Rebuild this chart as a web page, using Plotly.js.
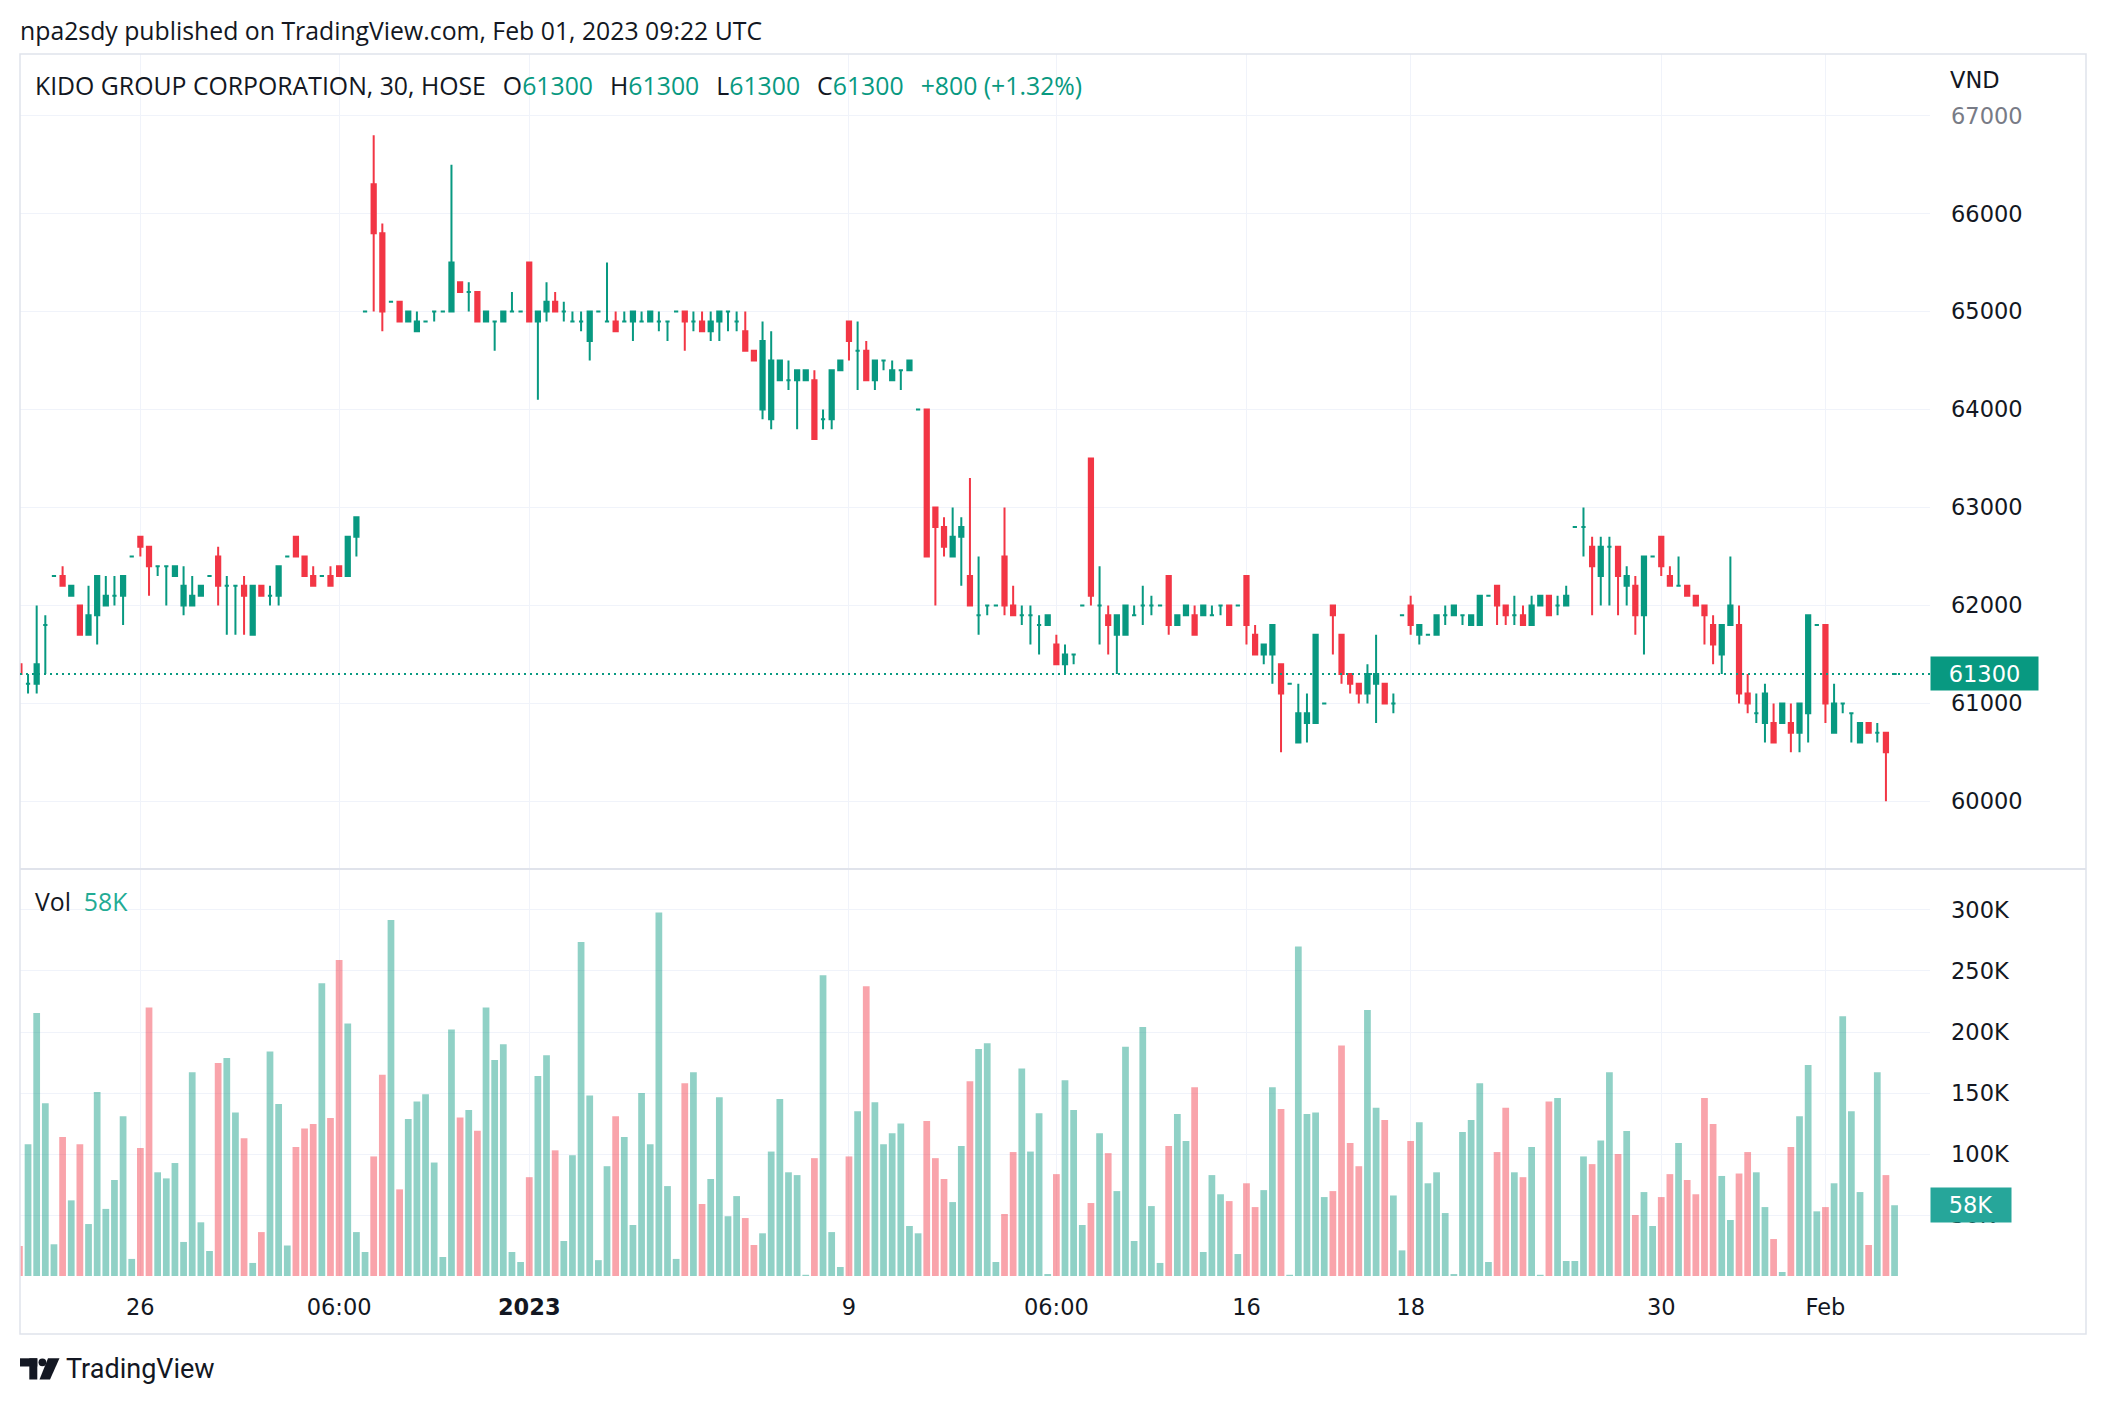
<!DOCTYPE html>
<html><head><meta charset="utf-8">
<script src="https://cdn.plot.ly/plotly-3.0.1.min.js"></script>
<style>html,body{margin:0;padding:0;background:#fff;overflow:hidden}#chart{width:2106px;height:1404px}</style>
</head><body><div id="chart"></div>
<script>
// ---- DATA (30-minute candles, KIDO GROUP CORPORATION, HOSE) ----
const openP = [61400,61200,61200,61800,62300,62300,62100,62000,61700,61900,62000,62100,62100,62500,62700,62600,62400,62400,62300,62000,
62000,62100,62300,62500,62200,62200,62200,61700,62200,62100,62100,62500,62700,62500,62300,62300,62300,62400,62300,62700,
65000,66300,65800,65100,65100,64900,64800,64900,65000,65000,65000,65300,65200,65200,64900,64900,64900,65000,65000,65500,
64900,65000,65100,65000,64900,64900,64700,65000,64900,64900,64900,64900,64900,64900,64900,64900,65000,65000,64900,64900,
64800,64900,65000,64900,64800,64600,64000,63900,64300,64300,64300,64300,64300,63900,63900,64400,64900,64600,64600,64300,
64500,64300,64400,64400,64000,64000,63000,62800,62500,62700,62300,61900,62000,62000,62500,62000,61900,61900,61800,61800,
61600,61400,61500,62000,63500,62000,61900,61700,61700,61900,62000,62000,62000,62300,61800,61900,61900,61900,61900,62000,
62000,62000,62300,61700,61500,61500,61400,61200,60600,60800,60800,61000,62000,61700,61300,61200,61100,61200,61200,61000,
61900,62000,61700,61700,61700,61900,61900,61900,61800,61800,62100,62200,62000,61900,61900,61800,62000,62100,62000,62000,
62800,62800,62600,62300,62600,62600,62200,62200,61900,62500,62700,62300,62200,62200,62100,62000,61800,61500,61800,61800,
61100,60900,60800,60800,60800,60800,60700,60900,61800,61800,60700,61000,60900,60600,60800,60700,60700,61300];
const highP = [61400,61300,62000,61900,62300,62400,62200,62000,62200,62300,62300,62300,62300,62500,62700,62600,62400,62400,62400,62400,
62300,62200,62300,62600,62300,62200,62300,62200,62200,62200,62400,62500,62700,62500,62400,62300,62400,62400,62700,62900,
65000,66800,65900,65100,65100,65000,65000,64900,65000,65000,66500,65300,65300,65200,65000,64900,65000,65200,65000,65500,
65000,65300,65200,65100,65000,65000,65000,65000,65500,65000,65000,65000,65000,65000,65000,64900,65000,65000,65000,65000,
65000,65000,65000,65000,65000,64600,64900,64800,64500,64500,64400,64400,64400,64000,64400,64500,64900,64900,64700,64500,
64500,64500,64400,64500,64000,64000,63000,62900,63000,62900,63300,62500,62000,62000,63000,62200,62000,62000,61900,61900,
61700,61600,61500,62000,63500,62400,62000,61900,62000,62000,62200,62100,62000,62300,61900,62000,62000,62000,62000,62000,
62000,62000,62300,61800,61600,61800,61400,61200,61200,61100,61700,61000,62000,61700,61300,61200,61400,61700,61200,61100,
61900,62100,61800,61700,61900,62000,62000,61900,61900,62100,62100,62200,62000,62100,62000,62100,62100,62100,62100,62200,
62800,63000,62700,62700,62700,62600,62400,62300,62500,62500,62700,62400,62500,62200,62100,62000,61900,61800,62500,62000,
61300,61100,61200,61000,61000,61000,61000,61900,61800,61800,61200,61000,60900,60800,60800,60800,60700,61300];
const lowP = [61300,61100,61100,61300,62300,62200,62100,61700,61700,61600,62000,62000,61800,62500,62500,62100,62300,62000,62300,61900,
62000,62100,62300,62000,61700,61700,61700,61700,62100,62000,62000,62500,62500,62300,62200,62300,62200,62300,62300,62500,
65000,65000,64800,65100,64900,64900,64800,64900,64900,65000,65000,65200,65000,64900,64900,64600,64900,65000,65000,64900,
64100,64900,65000,64900,64900,64800,64500,65000,64900,64800,64900,64700,64900,64900,64800,64700,65000,64600,64800,64800,
64700,64700,64800,64800,64600,64500,63900,63800,64300,64200,63800,64300,63700,63800,63800,64400,64500,64200,64300,64200,
64400,64300,64200,64400,64000,62500,62000,62500,62500,62200,62000,61700,61900,62000,61900,61900,61800,61600,61500,61800,
61400,61300,61400,62000,62000,61600,61500,61300,61700,61900,61800,61900,62000,61700,61800,61900,61700,61900,61900,61900,
61800,62000,61600,61500,61400,61200,60500,61200,60600,60600,60800,61000,61500,61200,61100,61000,61000,60800,61000,60900,
61900,61700,61600,61700,61700,61800,61900,61800,61800,61800,62100,61800,61800,61800,61800,61800,62000,61900,61900,62000,
62800,62500,61900,62000,62000,61900,62000,61700,61500,62500,62300,62200,62200,62100,62000,61600,61400,61300,61800,61000,
60900,60800,60600,60600,60800,60500,60500,60600,61800,60800,60700,60900,60600,60600,60700,60600,60000,61300];
const closeP = [61300,61200,61400,61800,62300,62200,62200,61700,61900,62300,62100,62100,62300,62500,62600,62400,62400,62400,62400,62200,
62100,62200,62300,62200,62200,62200,62100,62200,62100,62100,62400,62500,62500,62300,62200,62300,62200,62300,62700,62900,
65000,65800,65000,65100,64900,65000,64900,64900,65000,65000,65500,65200,65200,64900,65000,64900,65000,65000,65000,64900,
65000,65100,65000,65000,64900,64900,65000,65000,64900,64800,64900,65000,64900,65000,64900,64900,65000,64900,64900,64800,
64900,65000,65000,64900,64600,64500,64700,64500,64500,64300,64400,64400,63700,63900,64400,64500,64700,64600,64300,64500,
64500,64400,64400,64500,64000,62500,62800,62600,62700,62800,62000,61900,62000,62000,62000,61900,61900,61900,61800,61900,
61400,61500,61500,62000,62100,62000,61800,61900,62000,61900,62000,62000,62000,61800,61900,62000,61700,62000,61900,62000,
61800,62000,61800,61500,61600,61800,61100,61200,60900,60900,61700,61000,61900,61300,61200,61100,61300,61300,61000,61000,
61900,61800,61800,61700,61900,61900,62000,61900,61900,62100,62100,62000,61900,61900,61800,62000,62100,61900,62000,62100,
62800,62800,62400,62600,62600,62300,62300,61900,62500,62500,62400,62200,62200,62100,62000,61900,61600,61800,62000,61100,
61000,60900,61100,60600,61000,60700,61000,61900,61800,61000,61000,61000,60900,60800,60700,60700,60500,61300];
const volumeK = [24.6,108,215.5,141.5,26,114,62,108,42.6,150.8,55,78.7,131,14,105,220,85,80,92.6,27.9,
167,44,20.5,174.5,178.6,134,113,10.7,36,184,141,25,105.7,121,124.5,240,129.5,259,207,36,
19.7,98,165,291.7,71,128.6,143,149,93,15.6,202,130,136,119,220,177,190,19.7,11.5,81,
164,181,103,28.7,99,273.7,148,13,90,131,114,41.8,150,108,298,73.7,14,158,167,59,
79.5,146.6,49,65.5,47.5,25.4,35,102,145,85,82.7,1,96.6,246.5,36,7.4,98,135,237.5,142.5,
108,117,125,41,35,127,96.6,79.5,60.6,106.5,159.7,186,190.8,11.5,50.8,101.6,170,102,133.5,1.6,
83.5,160.5,136,41.8,59.8,117,100.7,69.6,188,28.7,204,57.3,10.7,106.5,132.7,110.6,154.8,19.7,82.7,67,
61.4,18,76,56.5,70.4,154.8,136.8,1,270,132.7,134,64.7,69.6,189,109,90,218,138,127.8,66,
21,110.6,126,76,85,51.6,1.6,118,127.8,158,11.5,101.6,138,85,81,105.7,1,143,146,12.3,
12.3,98,91.7,111,167,100,118.8,50,68.8,41,64.7,83.5,109,78.7,67,146,124.5,82,45.9,84,
101.6,85,56.5,30.3,3.3,105.7,131,173,53,56.5,76,213,135,68.8,25.4,167,82.7,58];
const timeTickIndex = [14,37,59,96,120,142,161,190,209];
const timeTickLabels = ['26','06:00','<b>2023</b>','9','06:00','16','18','30','Feb'];
const priceTicks = [60000,61000,62000,63000,64000,65000,66000,67000];
const volumeTicks = [50000,100000,150000,200000,250000,300000];
const volumeTickLabels = ['50K','100K','150K','200K','250K','300K'];

// ---- STYLE ----
const W = 2106, H = 1404;
const X = px => px / W, Y = py => 1 - py / H;
const UP = '#089981', DOWN = '#F23645';
const UPV = 'rgba(8,153,129,0.45)', DOWNV = 'rgba(242,54,69,0.45)';
const TXT = '#131722', GRID = '#f0f3fa', BORDER = '#e0e3eb';
const AXF = {family: 'DejaVu Sans, sans-serif', size: 22.5, color: TXT};
const UIF = 'Open Sans, Roboto, sans-serif';
const UIS = 24.8;

const n = openP.length;
const idx = openP.map((_, i) => i);
const isUp = idx.map(i => closeP[i] >= openP[i]);
function pick(arr, up) { return idx.filter(i => isUp[i] === up).map(i => arr[i]); }
function candle(up, color) {
  return {
    type: 'candlestick', xaxis: 'x', yaxis: 'y', hoverinfo: 'skip',
    x: pick(idx, up), open: pick(openP, up), high: pick(highP, up), low: pick(lowP, up), close: pick(closeP, up),
    increasing: {line: {color: color, width: 2}, fillcolor: color},
    decreasing: {line: {color: color, width: 2}, fillcolor: color},
    whiskerwidth: 0
  };
}
const volTrace = {
  type: 'bar', xaxis: 'x', yaxis: 'y2', hoverinfo: 'skip',
  x: idx, y: volumeK.map(v => v * 1000),
  marker: {color: idx.map(i => isUp[i] ? UPV : DOWNV), line: {width: 0}}
};

const lastI = n - 1;
const lastClose = closeP[lastI];
const chg = closeP[lastI] - closeP[lastI - 1];
const chgPct = (chg / closeP[lastI - 1] * 100).toFixed(2);
const g = s => '<span style="color:' + UP + '">' + s + '</span>';
const sp = '\u00a0\u00a0';
const sp3 = '\u00a0\u00a0\u2009';
const legendText = 'KIDO GROUP CORPORATION, 30, HOSE' + sp3 + 'O' + g(openP[lastI]) + sp3 + 'H' + g(highP[lastI]) + sp3 +
  'L' + g(lowP[lastI]) + sp3 + 'C' + g(closeP[lastI]) + sp3 + g((chg >= 0 ? '+' : '') + chg + ' (' + (chg >= 0 ? '+' : '') + chgPct + '%)');

const pxL = 20, pxR = 1930, frameR = 2086, paneTop = 54, paneSep = 869, volBottom = 1276, frameB = 1334;

const layout = {
  width: W, height: H, margin: {l: 0, r: 0, t: 0, b: 0},
  paper_bgcolor: '#ffffff', plot_bgcolor: '#ffffff', showlegend: false,
  boxgap: 0.3, bargap: 0.22,
  xaxis: {domain: [X(pxL), X(pxR)], range: [0.07, 221.1], anchor: 'y2', rangeslider: {visible: false},
    tickmode: 'array', tickvals: timeTickIndex, ticktext: timeTickLabels, tickfont: AXF,
    showgrid: true, gridcolor: GRID, gridwidth: 1, zeroline: false, showline: false, ticks: '',
    ticklabelstandoff: 15, fixedrange: true},
  yaxis: {domain: [Y(paneSep), Y(paneTop)], range: [59309, 67630], side: 'right', anchor: 'x',
    tickmode: 'array', tickvals: priceTicks,
    ticktext: priceTicks.map(v => v === 67000 ? '<span style="color:#787b86">' + v + '</span>' : String(v)),
    tickfont: AXF, showgrid: true, gridcolor: GRID, gridwidth: 1, zeroline: false, showline: false,
    ticks: '', ticklabelstandoff: 20, fixedrange: true},
  yaxis2: {domain: [Y(volBottom), Y(paneSep)], range: [0, 333600], side: 'right', anchor: 'x',
    tickmode: 'array', tickvals: volumeTicks, ticktext: volumeTickLabels, tickfont: AXF,
    showgrid: true, gridcolor: GRID, gridwidth: 1, zeroline: false, showline: false,
    ticks: '', ticklabelstandoff: 20, fixedrange: true},
  shapes: [
    {type: 'rect', xref: 'paper', yref: 'paper', x0: X(pxL), x1: X(frameR), y0: Y(frameB), y1: Y(paneTop), line: {color: BORDER, width: 1.5}, layer: 'above'},
    {type: 'line', xref: 'paper', yref: 'paper', x0: X(pxL), x1: X(frameR), y0: Y(paneSep), y1: Y(paneSep), line: {color: BORDER, width: 2}, layer: 'above'},
    {type: 'line', xref: 'paper', yref: 'y', x0: X(pxL), x1: X(pxR), y0: lastClose, y1: lastClose, line: {color: UP, width: 2, dash: '2px,4px'}, layer: 'above'},
    {type: 'rect', xref: 'paper', yref: 'paper', x0: X(20), x1: X(37.3), y0: Y(1366.5), y1: Y(1358.3), fillcolor: TXT, line: {width: 0}},
    {type: 'rect', xref: 'paper', yref: 'paper', x0: X(29.3), x1: X(37.3), y0: Y(1379.5), y1: Y(1358.3), fillcolor: TXT, line: {width: 0}},
    {type: 'circle', xref: 'paper', yref: 'paper', x0: X(38.5), x1: X(46.3), y0: Y(1366.2), y1: Y(1358.4), fillcolor: TXT, line: {width: 0}},
    {type: 'path', xref: 'paper', yref: 'paper',
      path: 'M' + X(48) + ',' + Y(1358.3) + ' L' + X(59.5) + ',' + Y(1358.3) + ' L' + X(50) + ',' + Y(1379.5) + ' L' + X(39.5) + ',' + Y(1379.5) + ' Z',
      fillcolor: TXT, line: {width: 0}}
  ],
  annotations: [
    {xref: 'paper', yref: 'paper', x: X(18), y: Y(30), xanchor: 'left', yanchor: 'middle', showarrow: false,
      text: 'npa2sdy published on TradingView.com, Feb 01, 2023 09:22 UTC', font: {family: UIF, size: UIS, color: TXT}},
    {xref: 'paper', yref: 'paper', x: X(33), y: Y(85), xanchor: 'left', yanchor: 'middle', showarrow: false,
      text: legendText, font: {family: UIF, size: UIS, color: TXT}},
    {xref: 'paper', yref: 'paper', x: X(1948), y: Y(80), xanchor: 'left', yanchor: 'middle', showarrow: false,
      text: 'VND', font: AXF},
    {xref: 'paper', yref: 'paper', x: X(33), y: Y(901), xanchor: 'left', yanchor: 'middle', showarrow: false,
      text: 'Vol' + sp + '<span style="color:#22ab94">' + Math.round(volumeK[lastI]) + 'K</span>', font: {family: UIF, size: UIS, color: TXT}},
    {xref: 'paper', yref: 'y', x: X(pxR), y: lastClose, xanchor: 'left', yanchor: 'middle', showarrow: false,
      text: String(lastClose), font: {family: AXF.family, size: 22.5, color: '#ffffff'}, bgcolor: UP,
      width: 99, height: 25, borderpad: 4, align: 'center'},
    {xref: 'paper', yref: 'y2', x: X(pxR), y: volumeK[lastI] * 1000, xanchor: 'left', yanchor: 'middle', showarrow: false,
      text: Math.round(volumeK[lastI]) + 'K', font: {family: AXF.family, size: 22.5, color: '#ffffff'}, bgcolor: '#26a69a',
      width: 72, height: 26, borderpad: 4, align: 'center'},
    {xref: 'paper', yref: 'paper', x: X(64), y: Y(1369), xanchor: 'left', yanchor: 'middle', showarrow: false,
      text: 'TradingView', font: {family: 'Roboto, sans-serif', size: 27, color: TXT}}
  ]
};

Plotly.newPlot('chart', [volTrace, candle(true, UP), candle(false, DOWN)], layout, {staticPlot: true, displayModeBar: false});
</script></body></html>
